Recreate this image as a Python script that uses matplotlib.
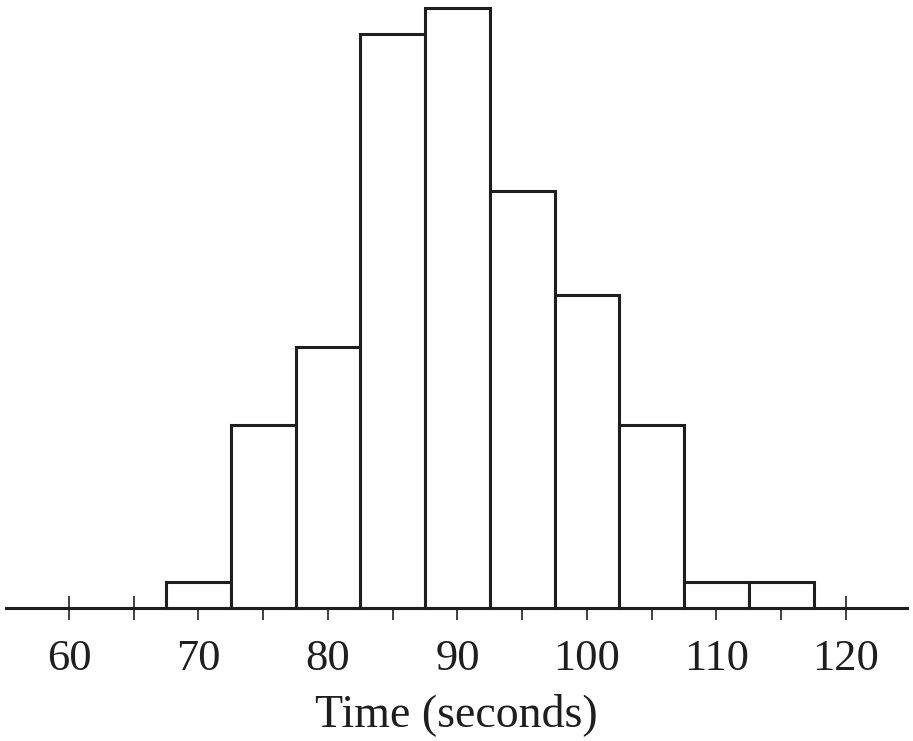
import matplotlib
matplotlib.use("Agg")
import matplotlib.pyplot as plt
import numpy as np

# histogram of times, bins of width 5 centred on 70..115
centers = [70, 75, 80, 85, 90, 95, 100, 105, 110, 115]
counts = [1, 7, 10, 22, 23, 16, 12, 7, 1, 1]
major_ticks = [60, 70, 80, 90, 100, 110, 120]
minor_ticks = [65, 75, 85, 95, 105, 115]

plt.rcParams['font.family'] = ['Liberation Serif', 'DejaVu Serif']

fig = plt.figure(figsize=(9.13, 7.41), dpi=100)
ax = fig.add_axes([6 / 913, 133 / 741, 901 / 913, 600 / 741])

ax.bar(centers, counts, width=5, facecolor='white', edgecolor='#1e1e1e',
       linewidth=2.2, clip_on=False, zorder=2)

ax.set_xlim(55.14, 124.71)
ax.set_ylim(0, 23)

for s in ['left', 'right', 'top']:
    ax.spines[s].set_visible(False)
ax.spines['bottom'].set_linewidth(2.2)
ax.spines['bottom'].set_color('#1e1e1e')
ax.spines['bottom'].set_zorder(3)
ax.set_yticks([])

ax.set_xticks(major_ticks)
ax.set_xticks(minor_ticks, minor=True)
ax.tick_params(axis='x', which='both', direction='inout', length=17,
               width=1.3, color='#333333')
ax.tick_params(axis='x', which='major', labelsize=32, pad=14,
               labelcolor='#1e1e1e')
ax.set_xlabel('Time (seconds)', fontsize=33, color='#1e1e1e', labelpad=10)

fig.savefig('out.png', dpi=100)
